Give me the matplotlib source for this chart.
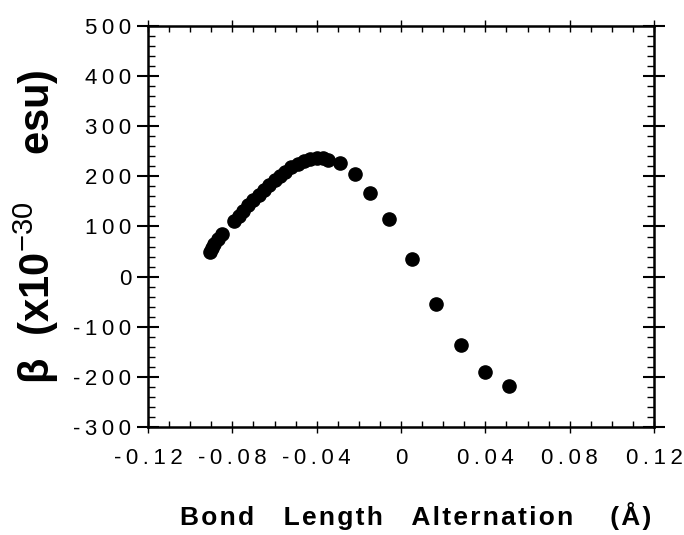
import matplotlib.pyplot as plt
from matplotlib.ticker import MultipleLocator

plt.rcParams['font.family'] = ['Liberation Sans', 'DejaVu Sans']
plt.rcParams['mathtext.fontset'] = 'custom'
plt.rcParams['mathtext.rm'] = 'Liberation Sans'

# bond length alternation (Angstrom) and beta (x10^-30 esu)
bla = [-0.0905, -0.0895, -0.0885, -0.0870, -0.0850,
       -0.0790, -0.0770, -0.0750, -0.0725, -0.0700, -0.0675, -0.0650,
       -0.0625, -0.0600, -0.0575, -0.0550, -0.0520, -0.0490, -0.0460,
       -0.0430, -0.0400, -0.0370, -0.0345, -0.0290,
       -0.0218, -0.0147, -0.0057, 0.0052, 0.0166, 0.0285, 0.0398, 0.0512]
beta = [50, 58, 66, 76, 85,
        110, 120, 130, 142, 152, 163, 173,
        183, 192, 201, 209, 218, 225, 230,
        234, 236, 236, 233, 226,
        204, 167, 114, 36, -54, -136, -190, -218]

xticks = [-0.12, -0.08, -0.04, 0, 0.04, 0.08, 0.12]
xtick_labels = ['-0.12', '-0.08', '-0.04', '0', '0.04', '0.08', '0.12']
yticks = [-300, -200, -100, 0, 100, 200, 300, 400, 500]
ytick_labels = ['-300', '-200', '-100', '0', '100', '200', '300', '400', '500']


def spaced(s, gap='\u2009'):
    # the scanned labels have wide letter spacing
    return gap.join(s)


fig = plt.figure(figsize=(6.84, 5.35), dpi=100)
ax = fig.add_axes([0.2164, 0.2019, 0.7398, 0.7495])

ax.plot(bla, beta, 'o', color='black', markersize=9.5)

ax.set_xlim(-0.12, 0.12)
ax.set_ylim(-300, 500)
ax.set_xticks(xticks)
ax.set_xticklabels([spaced(t) for t in xtick_labels])
ax.set_yticks(yticks)
ax.set_yticklabels([spaced(t) for t in ytick_labels])
ax.xaxis.set_minor_locator(MultipleLocator(0.01))
ax.yaxis.set_minor_locator(MultipleLocator(20))

ax.tick_params(axis='y', which='major', direction='inout', length=16, width=1.5,
               left=True, right=True, labelsize=16, pad=4)
ax.tick_params(axis='y', which='minor', direction='in', length=5, width=1,
               left=True, right=True)
ax.tick_params(axis='x', which='major', direction='inout', length=8, width=1,
               top=True, bottom=True, labelsize=16, pad=11)
ax.tick_params(axis='x', which='minor', direction='in', length=4, width=1,
               top=True, bottom=True)

for s in ax.spines.values():
    s.set_linewidth(1.8)

hs = '\u200a'
xlabel = (spaced('Bond', hs) + ' ' * 4 + spaced('Length', hs) + ' ' * 4
          + spaced('Alternation', hs) + ' ' * 5 + spaced('(\u00c5)', hs))
ax.set_xlabel(xlabel, fontsize=19, fontweight='bold', labelpad=24)
ax.xaxis.label.set_x(0.528)
ax.set_ylabel('\u03b2  (x10$^{\\mathrm{-30}}$    esu)', fontsize=30,
              fontweight='bold', labelpad=9)

fig.savefig('out.png', dpi=100)
